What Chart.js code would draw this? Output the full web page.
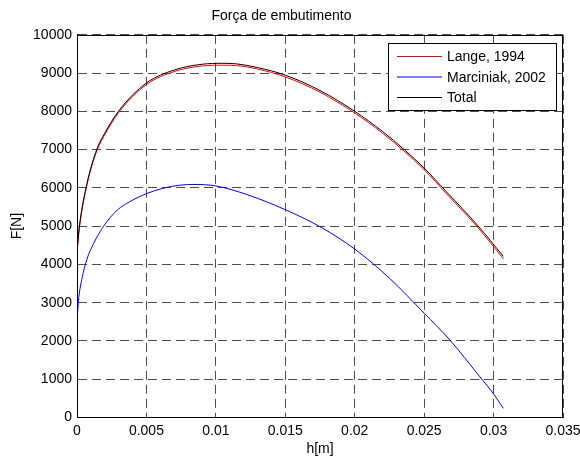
<!DOCTYPE html>
<html>
<head>
<meta charset="utf-8">
<title>Força de embutimento</title>
<script src="https://cdn.jsdelivr.net/npm/chart.js@4.4.1/dist/chart.umd.min.js"></script>
<style>
  html, body { margin: 0; padding: 0; background: #fff; }
  #wrap { width: 580px; height: 456px; }
</style>
</head>
<body>
<div id="wrap"><canvas id="grafico" width="580" height="456"></canvas></div>
<script>
// === DATI ===
const titolo = 'Força de embutimento';
const xTicks = [0, 0.005, 0.01, 0.015, 0.02, 0.025, 0.03, 0.035];
const yTicks = [0, 1000, 2000, 3000, 4000, 5000, 6000, 7000, 8000, 9000, 10000];

// Lange, 1994
const langeX = [0, 0.00017, 0.00072, 0.00144, 0.002, 0.003, 0.005, 0.007, 0.009, 0.0105, 0.0115, 0.013, 0.015, 0.0175, 0.02, 0.022, 0.0236, 0.025, 0.0266, 0.0289, 0.0307];
const langeY = [4300, 4950, 6080, 6980, 7390, 7970, 8700, 9040, 9185, 9205, 9195, 9105, 8900, 8500, 7955, 7430, 6945, 6475, 5850, 4950, 4150];

// Marciniak, 2002
const marcX = [0, 0.0001, 0.00034, 0.0007, 0.0012, 0.0019, 0.0029, 0.0038, 0.005, 0.0062, 0.0074, 0.0085, 0.01, 0.0122, 0.015, 0.0177, 0.02, 0.0225, 0.025, 0.0268, 0.029, 0.03, 0.0307];
const marcY = [2500, 3030, 3600, 4120, 4550, 4990, 5420, 5640, 5850, 5990, 6070, 6090, 6050, 5830, 5430, 4945, 4400, 3640, 2725, 2045, 1070, 615, 240];

// Total
const totX = [0, 0.00017, 0.00072, 0.00144, 0.002, 0.003, 0.005, 0.007, 0.009, 0.0105, 0.0115, 0.013, 0.015, 0.0175, 0.02, 0.022, 0.0236, 0.025, 0.0266, 0.0289, 0.0307];
const totY = [4350, 4990, 6120, 7020, 7430, 8010, 8740, 9080, 9230, 9255, 9240, 9145, 8945, 8545, 8000, 7475, 6990, 6520, 5900, 5000, 4210];

// === FUNZIONI ===
function punti(xs, ys) {
    return xs.map((x, i) => ({ x: x, y: ys[i] }));
}

function serie(label, xs, ys, colore, ordine) {
    return {
        label: label,
        data: punti(xs, ys),
        borderColor: colore,
        backgroundColor: colore,
        borderWidth: 1,
        pointRadius: 0,
        fill: false,
        cubicInterpolationMode: 'monotone',
        order: ordine
    };
}

// riquadro attorno all'area del grafico + legenda in alto a destra
const boxPlugin = {
    id: 'boxPlugin',
    afterDraw(chart) {
        const c = chart.ctx;
        const a = chart.chartArea;
        c.save();
        c.strokeStyle = '#000';
        c.lineWidth = 1;
        c.strokeRect(Math.round(a.left) + 0.5, Math.round(a.top) + 0.5,
            Math.round(a.right - a.left) - 1, Math.round(a.bottom - a.top) - 1);

        // legenda
        const lx = 388.5, ly = 43.5, lw = 168, lh = 67;
        c.fillStyle = '#fff';
        c.fillRect(lx, ly, lw, lh);
        c.strokeRect(lx, ly, lw, lh);
        c.font = '14px "Liberation Sans", Arial, sans-serif';
        c.textBaseline = 'middle';
        c.textAlign = 'left';
        const righe = [56.5, 77, 97.5];
        chart.data.datasets.forEach((ds, i) => {
            const y = righe[i];
            c.strokeStyle = ds.borderColor;
            c.beginPath();
            c.moveTo(397, y);
            c.lineTo(442, y);
            c.stroke();
            c.fillStyle = '#000';
            c.fillText(ds.label, 447, y + 1);
        });
        c.restore();
    }
};

Chart.defaults.font.family = '"Liberation Sans", Arial, sans-serif';
Chart.defaults.font.size = 14;
Chart.defaults.color = '#000';

const ctx = document.getElementById('grafico').getContext('2d');
const chart = new Chart(ctx, {
    type: 'line',
    data: {
        datasets: [
            serie('Lange, 1994', langeX, langeY, '#ff0000', 1),
            serie('Marciniak, 2002', marcX, marcY, '#0000ff', 2),
            serie('Total', totX, totY, '#000000', 0)
        ]
    },
    options: {
        responsive: false,
        animation: false,
        devicePixelRatio: 1,
        layout: { padding: { top: 0, left: 0, right: 17, bottom: 0 } },
        plugins: {
            legend: { display: false },
            tooltip: { enabled: false },
            title: {
                display: true,
                text: titolo,
                color: '#000',
                font: { size: 14, weight: 'normal' },
                padding: { top: 8, bottom: 10 }
            }
        },
        scales: {
            x: {
                type: 'linear',
                min: 0,
                max: 0.035,
                afterBuildTicks: (s) => { s.ticks = xTicks.map(v => ({ value: v })); },
                afterFit: (s) => {
                    s.height = 38.5;
                    s.paddingLeft = 0;
                    s.paddingRight = 0;
                },
                ticks: {
                    padding: 5,
                    maxRotation: 0,
                    autoSkip: false,
                    callback: (v) => String(Number(v.toFixed(3)))
                },
                grid: {
                    color: 'rgba(0,0,0,0.7)',
                    lineWidth: 1,
                    drawTicks: false
                },
                border: { display: true, color: '#000', dash: [9, 5] },
                title: {
                    display: true,
                    text: 'h[m]',
                    font: { size: 14, lineHeight: 1 },
                    padding: { top: 0, bottom: 0 }
                }
            },
            y: {
                min: 0,
                max: 10000,
                afterBuildTicks: (s) => { s.ticks = yTicks.map(v => ({ value: v })); },
                afterFit: (s) => { s.width = 77; },
                ticks: {
                    padding: 5,
                    autoSkip: false,
                    callback: (v) => String(v)
                },
                grid: {
                    color: 'rgba(0,0,0,0.7)',
                    lineWidth: 1,
                    drawTicks: false
                },
                border: { display: true, color: '#000', dash: [9, 5] },
                title: {
                    display: true,
                    text: 'F[N]',
                    font: { size: 14, lineHeight: 1 },
                    padding: { top: 10, bottom: 4 }
                }
            }
        }
    },
    plugins: [boxPlugin]
});
</script>
</body>
</html>
